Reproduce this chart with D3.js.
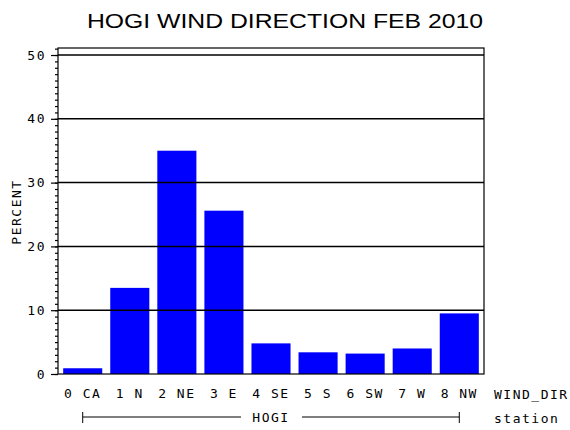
<!DOCTYPE html>
<meta charset="utf-8">
<style>
body { margin: 0; background: #fff; }
.lbl { font-family: "DejaVu Sans Mono", monospace; font-size: 13px; letter-spacing: 1.5px; fill: #000; }
.title { font-family: "Liberation Sans", Arial, sans-serif; font-size: 21px; fill: #000; }
</style>
<svg width="570" height="430"></svg>
<script src="https://d3js.org/d3.v7.min.js"></script>
<script>

  var categories = ["0 CA", "1 N", "2 NE", "3 E", "4 SE", "5 S", "6 SW", "7 W", "8 NW"];
  var percent = [0.9, 13.5, 35.0, 25.6, 4.8, 3.4, 3.2, 4.0, 9.5];
  var yTicks = [0, 10, 20, 30, 40, 50];

  // plot frame edges in pixels
  var svg = d3.select("svg"),
      frame = {left: 58, right: 484, top: 48, bottom: 374};

  var x = d3.scaleBand()
    .domain(categories)
    .range([frame.left, frame.right])
    .paddingInner(0.17)
    .paddingOuter(0.11);

  var y = d3.scaleLinear()
    .domain([0, 51.1])
    .range([frame.bottom, frame.top]);

  // title
  svg.append("text")
    .attr("class", "title")
    .attr("x", 285)
    .attr("y", 28)
    .attr("text-anchor", "middle")
    .attr("textLength", 396)
    .attr("lengthAdjust", "spacingAndGlyphs")
    .text("HOGI WIND DIRECTION FEB 2010");

  // bars
  svg.selectAll(".bar")
    .data(percent)
    .enter().append("rect")
    .attr("class", "bar")
    .attr("fill", "#0000ff")
    .attr("x", function(d, i) { return x(categories[i]); })
    .attr("y", function(d) { return y(d); })
    .attr("width", x.bandwidth())
    .attr("height", function(d) { return frame.bottom - y(d); });

  // reference lines over the bars
  svg.selectAll(".grid")
    .data(yTicks.slice(1))
    .enter().append("line")
    .attr("x1", frame.left).attr("x2", frame.right)
    .attr("y1", function(d) { return y(d); })
    .attr("y2", function(d) { return y(d); })
    .attr("stroke", "#000")
    .attr("stroke-width", 1.5);

  // frame
  svg.append("rect")
    .attr("x", frame.left).attr("y", frame.top)
    .attr("width", frame.right - frame.left).attr("height", frame.bottom - frame.top)
    .attr("fill", "none")
    .attr("stroke", "#000")
    .attr("stroke-width", 1.2);

  // y axis: minor ticks every 1, labelled major ticks every 10
  var yMinor = svg.append("g")
    .attr("transform", "translate(" + frame.left + ",0)")
    .call(d3.axisLeft(y).tickValues(d3.range(0, 52)).tickSize(3).tickFormat(""));
  yMinor.select(".domain").remove();

  var yMajor = svg.append("g")
    .attr("transform", "translate(" + frame.left + ",0)")
    .call(d3.axisLeft(y).tickValues(yTicks).tickSize(7).tickPadding(5));
  yMajor.select(".domain").remove();
  yMajor.attr("font-family", null).attr("font-size", null);
  yMajor.selectAll("text").attr("class", "lbl");
  svg.selectAll(".tick line").attr("stroke-width", 1.2);

  svg.append("text")
    .attr("class", "lbl")
    .attr("transform", "translate(21,212) rotate(-90)")
    .attr("text-anchor", "middle")
    .text("PERCENT");

  // x axis labels
  var xAxis = svg.append("g")
    .attr("transform", "translate(0," + frame.bottom + ")")
    .call(d3.axisBottom(x).tickSize(0).tickPadding(15));
  xAxis.select(".domain").remove();
  xAxis.attr("font-family", null).attr("font-size", null);
  xAxis.selectAll("text").attr("class", "lbl");

  svg.append("text")
    .attr("class", "lbl")
    .attr("x", 494)
    .attr("y", 399)
    .text("WIND_DIR");

  // group bracket
  var gx1 = x(categories[0]) + x.bandwidth() / 2,
      gx2 = x(categories[categories.length - 1]) + x.bandwidth() / 2,
      gy = 417;
  svg.append("line").attr("x1", gx1).attr("x2", 241).attr("y1", gy).attr("y2", gy).attr("stroke", "#000");
  svg.append("line").attr("x1", 302).attr("x2", gx2).attr("y1", gy).attr("y2", gy).attr("stroke", "#000");
  [gx1, gx2].forEach(function(v) {
    svg.append("line").attr("x1", v).attr("x2", v).attr("y1", gy - 5).attr("y2", gy + 6).attr("stroke", "#000");
  });
  svg.append("text")
    .attr("class", "lbl")
    .attr("x", (gx1 + gx2) / 2)
    .attr("y", 422)
    .attr("text-anchor", "middle")
    .text("HOGI");

  svg.append("text")
    .attr("class", "lbl")
    .attr("x", 494)
    .attr("y", 423)
    .text("station");
</script>
